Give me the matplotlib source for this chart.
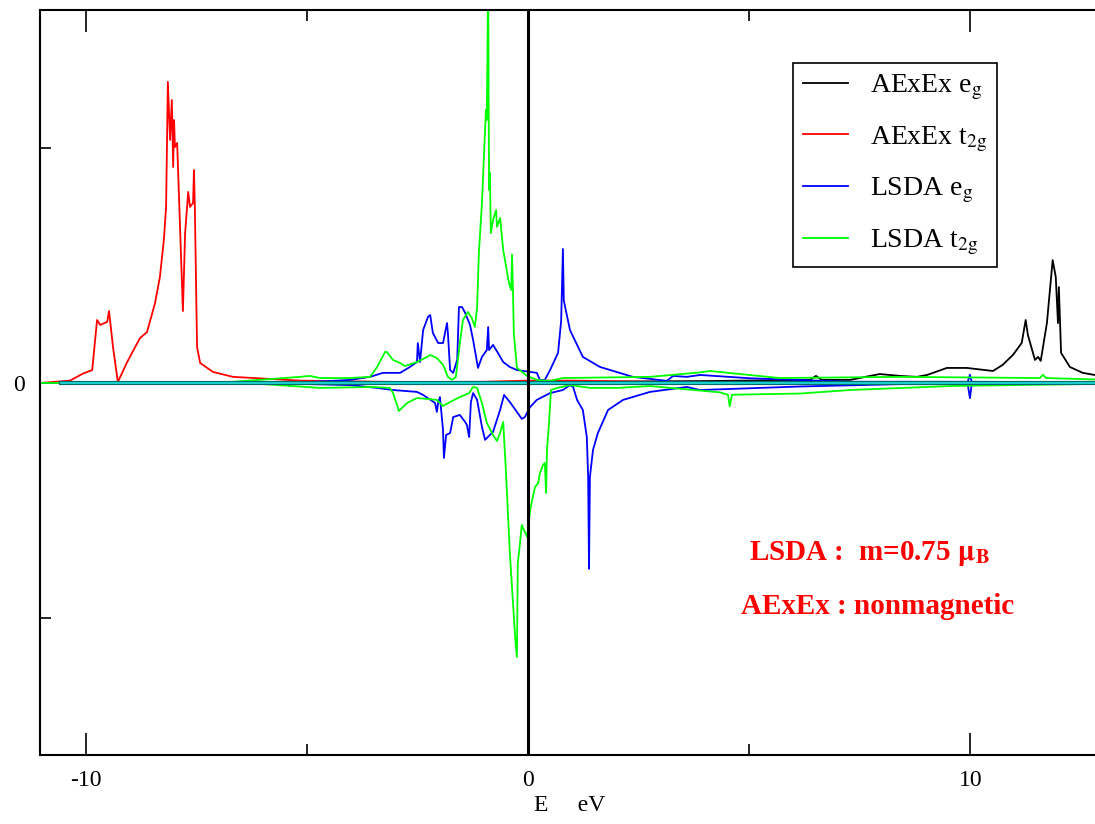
import matplotlib
matplotlib.use("Agg")
import matplotlib.pyplot as plt
from matplotlib.ticker import FixedLocator

plt.rcParams['font.family'] = ['Liberation Serif', 'DejaVu Serif']
plt.rcParams['mathtext.fontset'] = 'stix'
plt.rcParams['axes.unicode_minus'] = False

# ---------------------------------------------------
# DOS data (E in eV, DOS in tick units)
# ---------------------------------------------------

# AExEx e_g (black)
aexex_eg_x = [-11.03, -0.63, 3.89, 6.37, 6.51, 6.64, 7.28, 7.95, 8.41, 8.79, 9.02, 9.47, 9.92,
              10.51, 10.73, 10.96, 11.16, 11.25, 11.30, 11.46, 11.53, 11.59, 11.73, 11.86,
              11.93, 11.98, 12.0, 12.05, 12.25, 12.54, 12.81]
aexex_eg_y = [0.0, 0.003, 0.008, 0.013, 0.03, 0.013, 0.013, 0.038, 0.03, 0.026, 0.034, 0.064, 0.064,
              0.051, 0.077, 0.119, 0.17, 0.268, 0.204, 0.098, 0.111, 0.094, 0.255, 0.523,
              0.451, 0.255, 0.408, 0.128, 0.068, 0.043, 0.034]

# AExEx t2g (red)
aexex_t2g_x = [-11.03, -10.35, -10.06, -9.85, -9.74, -9.67, -9.51, -9.47, -9.38, -9.33, -9.27,
               -9.06, -8.77, -8.61, -8.43, -8.32, -8.23, -8.18, -8.14, -8.09, -8.05, -8.02,
               -8.00, -7.98, -7.93, -7.86, -7.80, -7.75, -7.68, -7.64, -7.57, -7.55, -7.53,
               -7.48, -7.41, -7.12, -6.67, -5.15, -2.89, -1.0, 0.0, 1.0, 3.0, 6.0, 8.0, 12.81]
aexex_t2g_y = [0.0, 0.01, 0.04, 0.055, 0.268, 0.247, 0.26, 0.306, 0.153, 0.085, 0.004,
               0.089, 0.191, 0.217, 0.34, 0.451, 0.609, 0.749, 1.281, 1.034, 1.204, 0.919,
               1.119, 1.004, 1.021, 0.638, 0.306, 0.638, 0.813, 0.749, 0.766, 0.906, 0.749,
               0.153, 0.085, 0.047, 0.026, 0.01, 0.004, 0.005, 0.01, 0.01, 0.005, 0.005, 0.003, 0.003]

# LSDA e_g spin up (blue)
lsda_eg_up_x = [-11.03, -5.15, -4.02, -3.57, -3.28, -2.89, -2.67, -2.51, -2.49, -2.44, -2.37,
                -2.26, -2.21, -2.15, -2.03, -1.92, -1.83, -1.81, -1.76, -1.69, -1.60, -1.56,
                -1.49, -1.42, -1.31, -1.24, -1.13, -1.04, -0.93, -0.90, -0.88, -0.79, -0.68,
                -0.56, -0.41, -0.25, 0.05, 0.20, 0.27, 0.38, 0.50, 0.68, 0.75, 0.79, 0.81,
                0.95, 1.24, 1.63, 2.37, 3.14, 3.28, 3.59, 3.89, 5.02, 7.28, 9.94, 9.99, 10.03, 12.81]
lsda_eg_up_y = [0.0, 0.002, 0.013, 0.026, 0.043, 0.043, 0.068, 0.089, 0.17, 0.089, 0.225,
                0.281, 0.289, 0.213, 0.17, 0.17, 0.255, 0.213, 0.055, 0.043, 0.098, 0.323,
                0.323, 0.298, 0.247, 0.183, 0.064, 0.111, 0.140, 0.238, 0.140, 0.162, 0.128,
                0.089, 0.068, 0.055, 0.047, 0.043, 0.013, 0.013, 0.055, 0.128, 0.264, 0.57, 0.35,
                0.225, 0.111, 0.068, 0.026, 0.009, 0.03, 0.026, 0.034, 0.02, 0.005, 0.005, 0.035, 0.005, 0.003]

# LSDA e_g spin down (blue, negative)
lsda_eg_dn_x = [-11.03, -5.15, -4.02, -3.41, -3.05, -2.51, -2.37, -2.10, -2.06, -2.03, -1.99,
                -1.92, -1.90, -1.85, -1.76, -1.69, -1.54, -1.42, -1.38, -1.33, -1.29, -1.24,
                -1.15, -1.04, -0.97, -0.79, -0.63, -0.54, -0.41, -0.25, -0.14, -0.07, 0.05,
                0.20, 0.50, 0.79, 0.95, 1.02, 1.11, 1.24, 1.33, 1.36, 1.38, 1.40, 1.47, 1.58,
                1.81, 2.15, 2.76, 3.59, 3.89, 6.15, 8.41, 9.94, 9.99, 10.03, 12.81]
lsda_eg_dn_y = [0.0, -0.004, -0.009, -0.021, -0.03, -0.038, -0.051, -0.085, -0.123, -0.085, -0.06,
                -0.2, -0.319, -0.221, -0.213, -0.145, -0.136, -0.166, -0.179, -0.230, -0.081, -0.043,
                -0.072, -0.187, -0.242, -0.208, -0.115, -0.051, -0.081, -0.123, -0.153, -0.145, -0.102,
                -0.072, -0.043, -0.03, -0.009, -0.017, -0.072, -0.115, -0.23, -0.4, -0.791, -0.4, -0.285, -0.213,
                -0.115, -0.072, -0.038, -0.017, -0.03, -0.015, -0.005, -0.005, -0.065, -0.005, -0.003]

# LSDA t2g spin up (green)
lsda_t2g_up_x = [-11.03, -6.73, -5.15, -4.93, -4.70, -4.02, -3.57, -3.41, -3.23, -3.19, -3.05,
                 -2.89, -2.78, -2.51, -2.28, -2.21, -2.06, -1.92, -1.81, -1.72, -1.63, -1.54,
                 -1.47, -1.36, -1.27, -1.20, -1.15, -1.11, -1.04, -0.99, -0.95, -0.93, -0.90,
                 -0.88, -0.86, -0.84, -0.79, -0.72, -0.70, -0.63, -0.56, -0.52, -0.47, -0.43,
                 -0.38, -0.36, -0.34, -0.32, -0.25, -0.02, 0.20, 0.50, 0.79, 2.76, 3.89, 4.11,
                 5.69, 8.41, 11.57, 11.64, 11.71, 12.81]
lsda_t2g_up_y = [0.0, 0.004, 0.026, 0.03, 0.021, 0.021, 0.026, 0.068, 0.132, 0.132, 0.098,
                 0.085, 0.072, 0.089, 0.111, 0.119, 0.106, 0.077, 0.026, 0.013, 0.026, 0.170,
                 0.268, 0.302, 0.277, 0.238, 0.323, 0.553, 0.766, 0.991, 1.162, 1.119, 1.75,
                 0.821, 0.894, 0.638, 0.694, 0.736, 0.664, 0.702, 0.566, 0.523, 0.468, 0.426,
                 0.396, 0.545, 0.396, 0.213, 0.064, 0.03, 0.013, 0.009, 0.021, 0.026, 0.045, 0.051,
                 0.021, 0.026, 0.021, 0.035, 0.021, 0.015]

# LSDA t2g spin down (green, negative)
lsda_t2g_dn_x = [-11.03, -6.28, -4.70, -3.50, -3.12, -3.05, -2.96, -2.92, -2.73, -2.51, -2.06,
                 -1.92, -1.76, -1.54, -1.33, -1.24, -1.15, -1.04, -0.93, -0.79, -0.70, -0.63,
                 -0.56, -0.50, -0.41, -0.29, -0.25, -0.23, -0.18, -0.14, -0.09, -0.02, 0.05,
                 0.11, 0.16, 0.23, 0.27, 0.34, 0.38, 0.41, 0.43, 0.47, 0.52, 0.66, 0.95, 1.40,
                 2.01, 2.76, 4.34, 4.52, 4.56, 4.61, 6.15, 7.28, 9.54, 12.81]
lsda_t2g_dn_y = [0.0, -0.001, -0.021, -0.017, -0.021, -0.043, -0.094, -0.119, -0.085, -0.064, -0.072,
                 -0.098, -0.081, -0.060, -0.043, -0.017, -0.021, -0.085, -0.170, -0.221, -0.247, -0.213,
                 -0.166, -0.370, -0.723, -1.081, -1.166, -0.766, -0.681, -0.604, -0.626, -0.655, -0.540,
                 -0.485, -0.443, -0.426, -0.383, -0.349, -0.340, -0.468, -0.285, -0.187, -0.030, -0.021, -0.009, -0.021,
                 -0.021, -0.013, -0.04, -0.05, -0.1, -0.05, -0.045, -0.030, -0.013, -0.004]

legend_labels = [r'AExEx e$_{\rm g}$', r'AExEx t$_{\rm 2g}$', r'LSDA e$_{\rm g}$', r'LSDA t$_{\rm 2g}$']

# ---------------------------------------------------
# Plot
# ---------------------------------------------------
W, H = 1095, 824
fig = plt.figure(figsize=(W / 100, H / 100), dpi=100)
ax = fig.add_axes([40 / W, 69 / H, 1060 / W, 745 / H])

lw = 1.3
ax.plot(aexex_eg_x, aexex_eg_y, color='black', lw=lw, label=legend_labels[0])
ax.plot(aexex_t2g_x, aexex_t2g_y, color='red', lw=lw, label=legend_labels[1])
ax.plot(lsda_eg_up_x, lsda_eg_up_y, color='blue', lw=lw, label=legend_labels[2])
ax.plot(lsda_t2g_up_x, lsda_t2g_up_y, color='#00ff00', lw=lw, label=legend_labels[3])
ax.plot(lsda_eg_dn_x, lsda_eg_dn_y, color='blue', lw=lw)
ax.plot(lsda_t2g_dn_x, lsda_t2g_dn_y, color='#00ff00', lw=lw)

# zero line and Fermi level
ax.axhline(0, xmin=0.02, color='#006b6b', lw=3.0, zorder=3)
ax.axhline(0, xmin=0.02, color='#20e0e0', lw=1.2, zorder=3.1)
ax.axvline(0, color='black', lw=2.2, zorder=4)

ax.set_xlim(-11.03, 12.93)
ax.set_ylim(-1.583, 1.587)

ax.xaxis.set_major_locator(FixedLocator([-10, 0, 10]))
ax.xaxis.set_minor_locator(FixedLocator([-5, 5]))
ax.yaxis.set_major_locator(FixedLocator([0]))
ax.yaxis.set_minor_locator(FixedLocator([-1, 1]))
ax.tick_params(which='both', direction='in', top=True, right=False, width=1.2)
ax.tick_params(which='major', length=16, labelsize=17, pad=11)
ax.tick_params(which='minor', length=8)
ax.spines['right'].set_visible(False)
for s in ['left', 'bottom', 'top']:
    ax.spines[s].set_linewidth(1.5)

ax.set_xlabel('E     eV', fontsize=17, labelpad=3)

leg = ax.legend(loc='upper right', bbox_to_anchor=(997 / W, 1 - 63 / H),
                bbox_transform=fig.transFigure, borderaxespad=0,
                fontsize=20, handlelength=1.6, handletextpad=0.8,
                labelspacing=0.8, borderpad=0.35, fancybox=False, framealpha=1, edgecolor='black')
leg.get_frame().set_linewidth(1.2)

fig.text(870 / W, 1 - 553 / H, r'LSDA :  m=0.75 $\mathbf{\mu}_{\mathbf{B}}$', color='red',
         fontsize=21, fontweight='bold', ha='center', va='center')
fig.text(878 / W, 1 - 606 / H, 'AExEx : nonmagnetic', color='red',
         fontsize=21, fontweight='bold', ha='center', va='center')

plt.savefig('out.png', dpi=100)
